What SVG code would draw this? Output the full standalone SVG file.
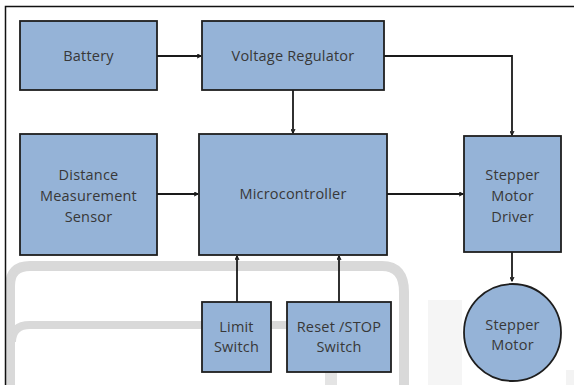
<svg xmlns="http://www.w3.org/2000/svg" width="574" height="385" viewBox="0 0 574 385">
  <style>
    .box { fill: #95b3d7; stroke: #1e1e1e; stroke-width: 1.8; }
    .lbl { font-family: "Open Sans", Lato, "Liberation Sans", sans-serif; font-size: 14.5px; fill: #383838; text-anchor: middle; letter-spacing: 0.2px; }
    .wire { fill: none; stroke: #1a1a1a; stroke-width: 1.8; marker-end: url(#arrow); }
    .ghost { fill: none; stroke: #d9d9d9; }
  </style>
  <defs>
    <marker id="arrow" viewBox="0 0 10 10" refX="9" refY="5" markerWidth="5" markerHeight="5" orient="auto" markerUnits="userSpaceOnUse">
      <path d="M1,1 L9,5 L1,9" fill="none" stroke="#1a1a1a" stroke-width="2.2"/>
    </marker>
  </defs>

  <rect width="574" height="385" fill="#fff"/>

  <!-- faint background outlines -->
  <g id="background">
    <path class="ghost" d="M10 385 V286 Q10 266 30 266 H382 Q404 266 404 292 V385" stroke="#f2f2f2" stroke-width="10"/>
    <path class="ghost" d="M10 385 V286 Q10 266 30 266 H382 Q404 266 404 292 V385" stroke-width="3.5"/>
    <path class="ghost" d="M12 342 Q12 325 30 325 H300" stroke="#f2f2f2" stroke-width="8"/>
    <path class="ghost" d="M12 342 Q12 325 30 325 H300" stroke-width="3"/>
    <rect x="325" y="372" width="12" height="13" fill="#e4e4e4"/>
    <rect x="428" y="300" width="34" height="85" fill="#f5f5f5"/>
    <rect x="566" y="370" width="8" height="15" fill="#f3f3f3"/>
  </g>

  <!-- frame -->
  <path d="M5.5 385 V6.5 H574" fill="none" stroke="#111" stroke-width="1.5"/>

  <g id="connectors">
    <path class="wire" d="M157 56 H201"/>
    <path class="wire" d="M293 90 V133"/>
    <path class="wire" d="M384 56 H512 V135"/>
    <path class="wire" d="M157 194 H198"/>
    <path class="wire" d="M387 194 H463"/>
    <path class="wire" d="M512 252 V281"/>
    <path class="wire" d="M237 302 V256"/>
    <path class="wire" d="M339 302 V256"/>
  </g>

  <g id="battery">
    <rect class="box" x="20" y="21" width="137" height="69"/>
    <text class="lbl" x="88.5" y="61">Battery</text>
  </g>
  <g id="voltage-regulator">
    <rect class="box" x="202" y="21" width="182" height="69"/>
    <text class="lbl" x="293" y="61">Voltage Regulator</text>
  </g>
  <g id="distance-sensor">
    <rect class="box" x="20" y="134" width="137" height="121"/>
    <text class="lbl" x="88.5" y="180">Distance</text>
    <text class="lbl" x="88.5" y="201">Measurement</text>
    <text class="lbl" x="88.5" y="222">Sensor</text>
  </g>
  <g id="microcontroller">
    <rect class="box" x="199" y="134" width="188" height="121"/>
    <text class="lbl" x="293" y="199">Microcontroller</text>
  </g>
  <g id="stepper-driver">
    <rect class="box" x="464" y="136" width="97" height="116"/>
    <text class="lbl" x="512.5" y="180">Stepper</text>
    <text class="lbl" x="512.5" y="201">Motor</text>
    <text class="lbl" x="512.5" y="222">Driver</text>
  </g>
  <g id="stepper-motor">
    <circle class="box" cx="512.5" cy="332.5" r="48.5"/>
    <text class="lbl" x="512.5" y="330">Stepper</text>
    <text class="lbl" x="512.5" y="350">Motor</text>
  </g>
  <g id="limit-switch">
    <rect class="box" x="202" y="302" width="69" height="70"/>
    <text class="lbl" x="236.5" y="332">Limit</text>
    <text class="lbl" x="236.5" y="352">Switch</text>
  </g>
  <g id="reset-switch">
    <rect class="box" x="287" y="302" width="104" height="70"/>
    <text class="lbl" x="339" y="332">Reset /STOP</text>
    <text class="lbl" x="339" y="352">Switch</text>
  </g>
</svg>
